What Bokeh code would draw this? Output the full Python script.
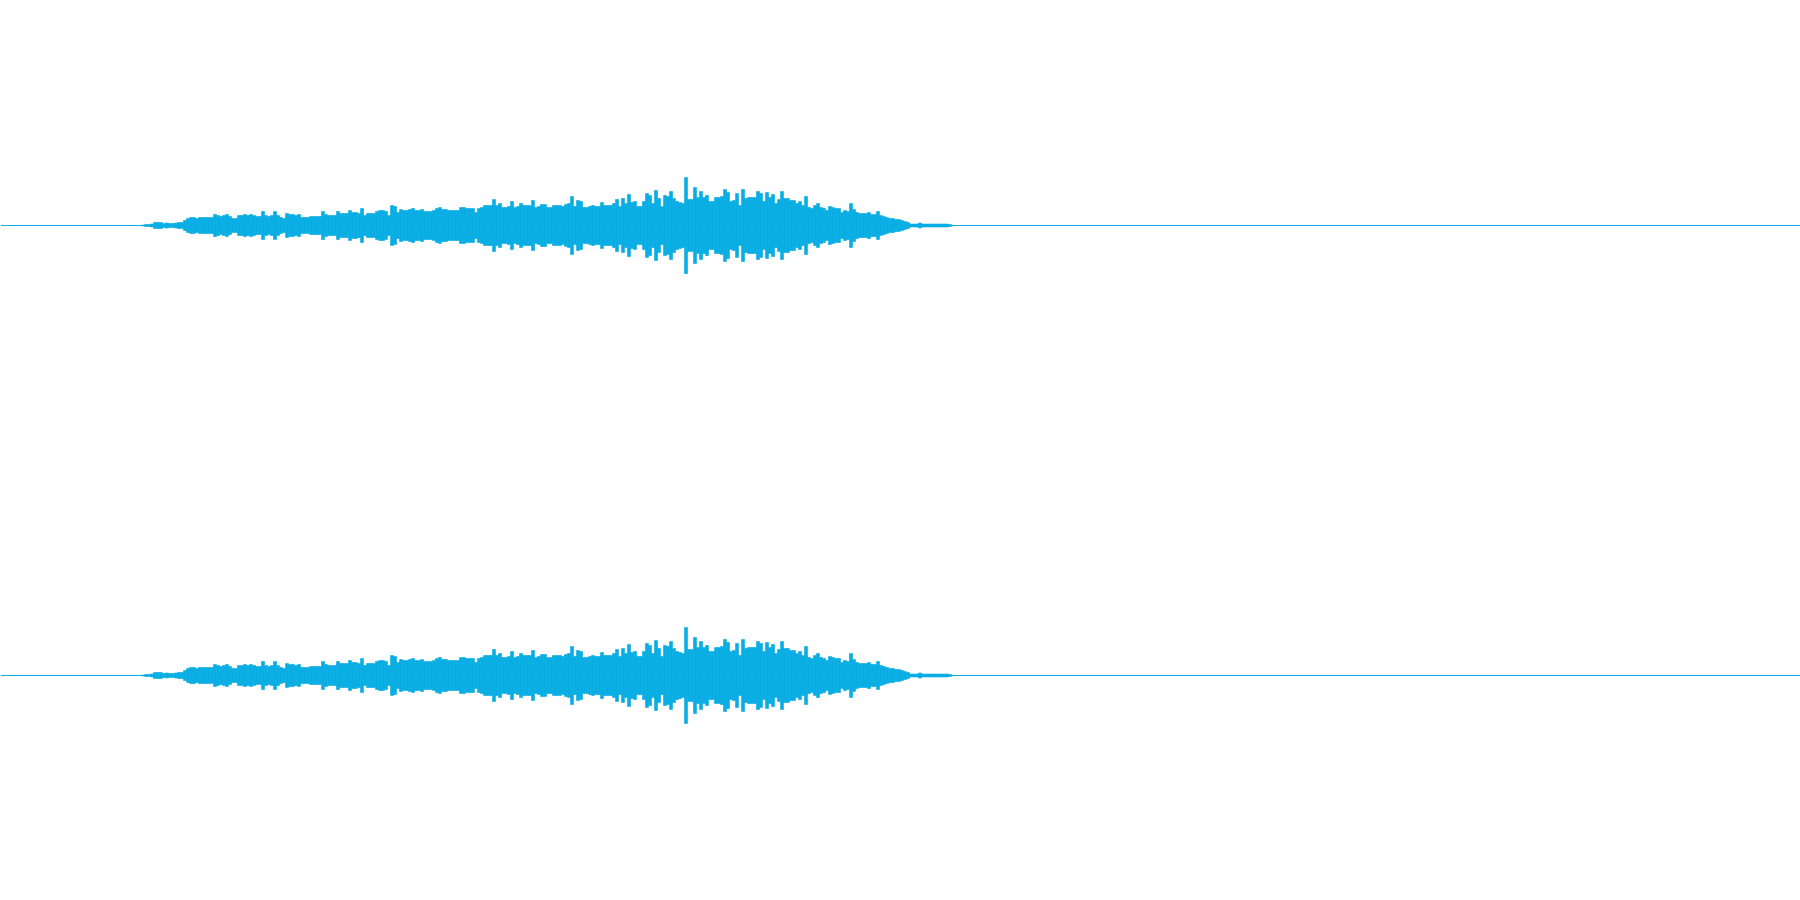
from bokeh.plotting import figure
from bokeh.layouts import column
from bokeh.models import Range1d, Span, ColumnDataSource
from bokeh.embed import file_html
from bokeh.resources import INLINE

# Peak amplitude per frame (units: 1/225 of full scale)
seg1 = [0.5, 1, 1, 1.5, 3, 3, 3, 2, 2.5, 2, 2, 2.5, 3, 3, 5, 7, 8, 8, 7, 8,
        8, 8, 8, 8, 11, 10, 9, 10, 11, 9, 7, 7, 10, 10, 11, 10, 11, 10, 9, 9,
        14, 10, 9, 10, 14]
seg2 = [10, 8, 7, 12, 11, 11, 10, 11, 8, 8, 8, 9, 9, 9, 9, 14, 11, 10, 10, 10,
        14, 12, 12, 12, 15, 13, 13, 12, 17, 10, 12, 12, 12, 14, 15, 15, 14, 10, 20, 19,
        13, 16, 15, 15, 16]
seg3 = [17, 15, 15, 16, 14, 14, 14, 15, 17, 18, 16, 16, 15, 15, 15, 15, 18, 18, 17, 17,
        17, 13, 17, 18, 20, 20, 20, 26, 20, 22, 18, 18, 19, 24, 18, 19, 22, 20, 20, 20,
        25, 18, 19, 21, 21]
seg4 = [18, 18, 20, 20, 20, 19, 21, 22, 29, 19, 25, 24, 18, 18, 19, 20, 19, 19, 23, 20,
        20, 20, 22, 26, 19, 27, 22, 31, 23, 24, 19, 19, 24, 32, 30, 22, 35, 27, 19, 30,
        29, 34, 27, 24, 23]
seg5 = [22, 48, 26, 26, 38, 28, 34, 28, 30, 24, 24, 28, 28, 29, 36, 33, 24, 25, 32, 20,
        36, 27, 28, 28, 28, 34, 32, 24, 33, 28, 31, 22, 26, 34, 27, 27, 25, 25, 22, 24,
        20, 29, 18, 17, 20]
seg6 = [22, 18, 17, 15, 19, 18, 17, 17, 13, 15, 14, 22, 16, 13, 12, 12, 12, 13, 11, 11,
        14, 10, 9, 8, 7, 7, 6, 6, 5, 4, 3, 1.5, 1.5, 1.5, 2.5, 1.5, 1.5, 1.5, 1.5, 1.5,
        1.5, 1.5, 1.5, 1.5, 1]

peak = seg1 + seg2 + seg3 + seg4 + seg5 + seg6
channel_left = peak
channel_right = peak

COLOR = "#07ADE3"
PX_PER_FRAME = 3
START_PX = 141  # page px where frame 0 starts
W = 1800
H = 450


def make_channel(values):
    n = len(values)
    frames = [i + 0.5 for i in range(n)]
    src = ColumnDataSource(dict(x=frames, top=values, bottom=[-v for v in values]))
    x0 = (0 - START_PX) / PX_PER_FRAME
    x1 = (W - START_PX) / PX_PER_FRAME
    p = figure(width=W, height=H, output_backend="svg", toolbar_location=None,
               x_range=Range1d(x0, x1), y_range=Range1d(-225, 225),
               min_border=0, min_border_left=0, min_border_right=0,
               min_border_top=0, min_border_bottom=0)
    p.axis.visible = False
    p.grid.visible = False
    p.outline_line_color = None
    p.background_fill_color = "white"
    p.border_fill_color = "white"
    p.add_layout(Span(location=0, dimension="width", line_color=COLOR, line_width=1))
    p.vbar(x="x", top="top", bottom="bottom", width=1.0, source=src,
           fill_color=COLOR, line_color=COLOR, line_width=0.6)
    return p


p1 = make_channel(channel_left)
p2 = make_channel(channel_right)
layout = column(p1, p2, spacing=0)

open("out.html", "w").write(file_html(layout, INLINE))
